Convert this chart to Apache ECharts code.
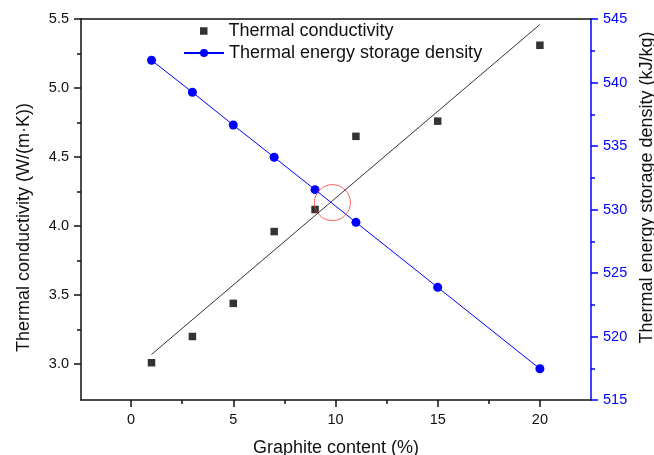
<!DOCTYPE html>
<html>
<head>
<meta charset="utf-8">
<style>html,body{margin:0;padding:0;background:#fff}#c{width:654px;height:455px}</style>
<script src="https://cdn.jsdelivr.net/npm/echarts@6/dist/echarts.min.js"></script>
</head>
<body>
<div id="c"></div>
<script>
const graphite = [1, 3, 5, 7, 9, 11, 15, 20];
const conductivity = [3.01, 3.20, 3.44, 3.96, 4.12, 4.65, 4.76, 5.31];
const storageDensity = [541.75, 539.23, 536.65, 534.11, 531.56, 528.99, 523.87, 517.46];
const fitX = [1, 20];
const fitY = [3.07, 5.46];
const crossMark = [[9.85, 4.17]];
const xTicks = [0, 5, 10, 15, 20];
const xMinorTicks = [2.5, 7.5, 12.5, 17.5];
const leftTicks = [3.0, 3.5, 4.0, 4.5, 5.0, 5.5];
const leftMinorTicks = [3.25, 3.75, 4.25, 4.75, 5.25];
const rightTicks = [515, 520, 525, 530, 535, 540, 545];
const rightMinorTicks = [517.5, 522.5, 527.5, 532.5, 537.5, 542.5];
const seriesNames = ['Thermal conductivity', 'Thermal energy storage density'];
const axisNames = { x: 'Graphite content (%)', left: 'Thermal conductivity (W/(m·K))', right: 'Thermal energy storage density (kJ/kg)' };

const FONT = 'Liberation Sans, Arial, sans-serif';
const BLACK = '#111';
const BLUE = '#0000ff';
const X_RANGE = [-2.45, 22.5];
const L_RANGE = [2.74, 5.5];
const R_RANGE = [515, 545];

const chart = echarts.init(document.getElementById('c'), null, { renderer: 'canvas' });

function tickAxis(range, position, values, len, color) {
  return {
    type: 'value', min: range[0], max: range[1], position: position,
    axisLine: { show: false, onZero: false },
    axisLabel: { show: false },
    splitLine: { show: false },
    axisTick: { show: true, length: len, customValues: values, lineStyle: { color: color, width: 1.5 } }
  };
}

const option = {
  animation: false,
  backgroundColor: '#fff',
  grid: { left: 81, right: 63, top: 19, bottom: 55, containLabel: false, outerBoundsMode: 'none' },
  legend: [
    {
      data: [seriesNames[0]], left: 195, top: 17, orient: 'vertical',
      itemWidth: 7.5, itemHeight: 7.5,
      textStyle: { fontFamily: FONT, fontSize: 18, color: BLACK, padding: [0, 0, 0, 16] }
    },
    {
      data: [seriesNames[1]], left: 178, top: 39, orient: 'vertical',
      itemWidth: 40, itemHeight: 10,
      textStyle: { fontFamily: FONT, fontSize: 18, color: BLACK }
    }
  ],
  xAxis: [
    {
      type: 'value', min: X_RANGE[0], max: X_RANGE[1], position: 'bottom',
      name: axisNames.x, nameLocation: 'middle', nameGap: 39,
      nameTextStyle: { fontFamily: FONT, fontSize: 18, color: BLACK },
      axisLine: { show: true, onZero: false, lineStyle: { color: BLACK, width: 1.5 } },
      axisTick: { show: false },
      axisLabel: { customValues: xTicks, fontFamily: FONT, fontSize: 14.5, color: BLACK, margin: 12 },
      splitLine: { show: false }
    },
    tickAxis(X_RANGE, 'bottom', xTicks, 7, BLACK),
    tickAxis(X_RANGE, 'bottom', xMinorTicks, 4, BLACK),
    {
      type: 'value', min: X_RANGE[0], max: X_RANGE[1], position: 'top',
      axisLine: { show: true, onZero: false, lineStyle: { color: BLACK, width: 1.5 } },
      axisTick: { show: false }, axisLabel: { show: false }, splitLine: { show: false }
    }
  ],
  yAxis: [
    {
      type: 'value', min: L_RANGE[0], max: L_RANGE[1], position: 'left',
      name: axisNames.left, nameLocation: 'middle', nameGap: 48, nameRotate: 90,
      nameTextStyle: { fontFamily: FONT, fontSize: 18, color: BLACK, padding: [0, 36, 0, 0] },
      axisLine: { show: true, onZero: false, lineStyle: { color: BLACK, width: 1.5 } },
      axisTick: { show: false },
      axisLabel: { customValues: leftTicks, formatter: v => v.toFixed(1), fontFamily: FONT, fontSize: 14.5, color: BLACK, margin: 12 },
      splitLine: { show: false }
    },
    {
      type: 'value', min: R_RANGE[0], max: R_RANGE[1], position: 'right',
      name: axisNames.right, nameLocation: 'middle', nameGap: 43, nameRotate: 90,
      nameTextStyle: { fontFamily: FONT, fontSize: 18, color: BLACK, padding: [0, 0, 0, 44] },
      axisLine: { show: true, onZero: false, lineStyle: { color: BLUE, width: 1.5 } },
      axisTick: { show: false },
      axisLabel: { customValues: rightTicks, fontFamily: FONT, fontSize: 14.5, color: BLUE, margin: 12 },
      splitLine: { show: false }
    },
    tickAxis(L_RANGE, 'left', leftTicks, 7, BLACK),
    tickAxis(L_RANGE, 'left', leftMinorTicks, 4, BLACK),
    tickAxis(R_RANGE, 'right', rightTicks, 7, BLUE),
    tickAxis(R_RANGE, 'right', rightMinorTicks, 4, BLUE)
  ],
  series: [
    {
      name: 'fit', type: 'line', xAxisIndex: 0, yAxisIndex: 0,
      data: fitX.map((x, i) => [x, fitY[i]]),
      symbol: 'none', lineStyle: { color: '#333', width: 1 }, z: 2, silent: true
    },
    {
      name: seriesNames[0], type: 'scatter', xAxisIndex: 0, yAxisIndex: 0,
      data: graphite.map((x, i) => [x, conductivity[i]]),
      symbol: 'rect', symbolSize: 7.5, itemStyle: { color: '#000' }, z: 4
    },
    {
      name: seriesNames[1], type: 'line', xAxisIndex: 0, yAxisIndex: 1,
      data: graphite.map((x, i) => [x, storageDensity[i]]),
      symbol: 'circle', symbolSize: 9, showAllSymbol: true,
      lineStyle: { color: BLUE, width: 1 }, itemStyle: { color: BLUE }, z: 3
    },
    {
      name: 'mark', type: 'scatter', xAxisIndex: 0, yAxisIndex: 0,
      data: crossMark, symbol: 'circle', symbolSize: 36,
      itemStyle: { color: 'rgba(0,0,0,0)', borderColor: '#ff3b3b', borderWidth: 1 }, z: 5, silent: true
    }
  ]
};
chart.setOption(option);
</script>
</body>
</html>
